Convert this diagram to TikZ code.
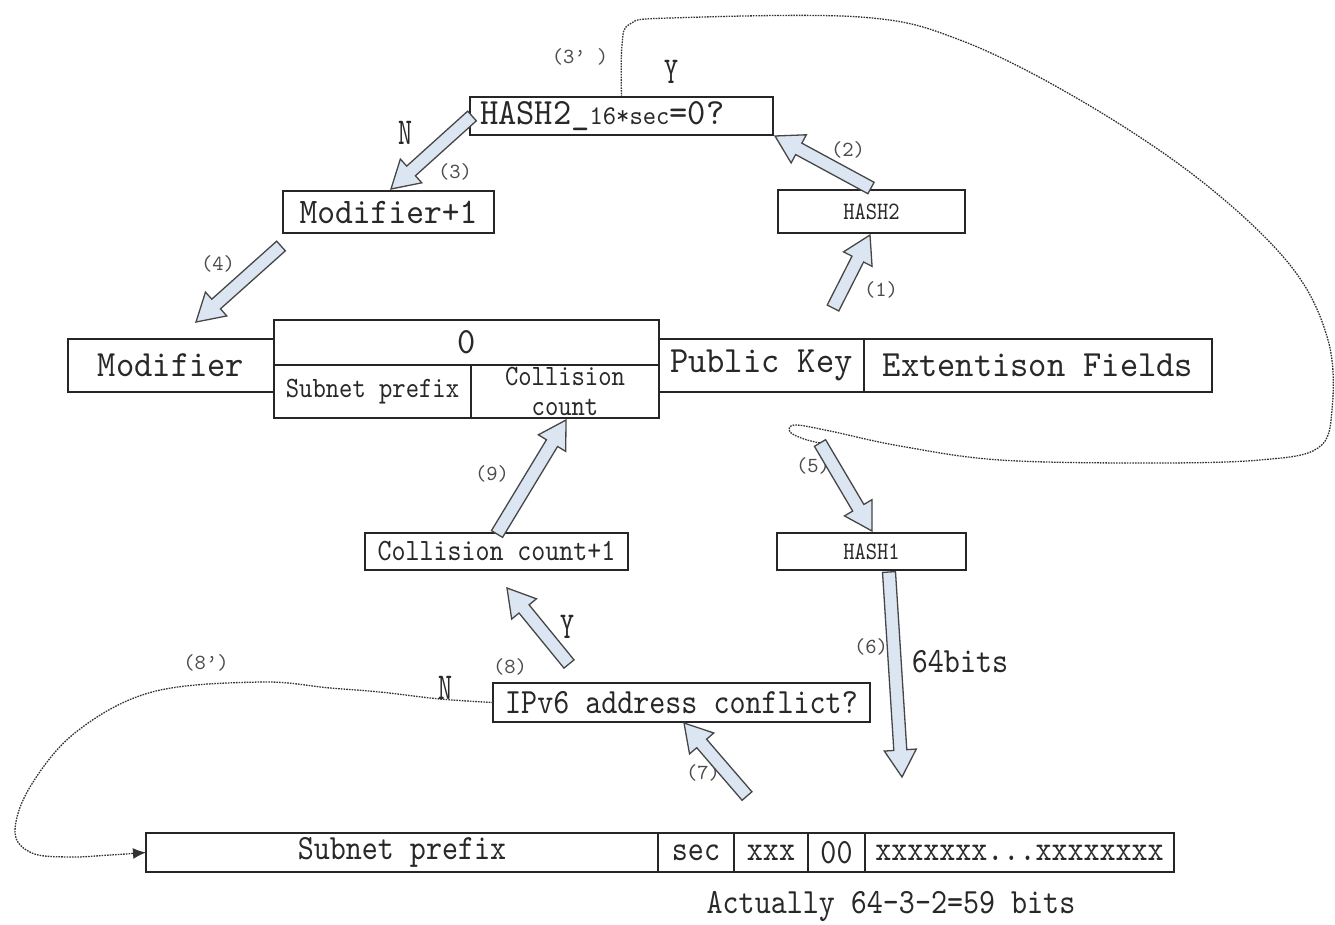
\documentclass[tikz,border=0pt]{standalone}
\usepackage{fontspec}
\newfontfamily\mfont[FakeStretch=0.94]{lmmono10-regular.otf}
\newfontfamily\nfont[FakeStretch=0.86]{lmmono10-regular.otf}
\newfontfamily\yfont[FakeStretch=0.7]{lmmono10-regular.otf}
\newfontfamily\lfont{lmmono10-regular.otf}
\usetikzlibrary{calc,arrows.meta}
\newcommand\fsz[1]{\fontsize{#1}{#1}\selectfont}
\definecolor{arrfill}{RGB}{220,230,242}
\definecolor{arrline}{RGB}{70,70,70}
\definecolor{txt}{RGB}{40,40,40}
\def\sw{6.5pt}\def\hw{16pt}\def\hl{27pt}
\newcommand{\blockarrow}[2]{%
  \path ($(#2)!\hl!(#1)$) coordinate (bh);
  \filldraw[blk] ($(#1)!\sw!90:(#2)$) -- ($(bh)!\sw!90:(#2)$) -- ($(bh)!\hw!90:(#2)$) -- (#2)
    -- ($(bh)!\hw!-90:(#2)$) -- ($(bh)!\sw!-90:(#2)$) -- ($(#1)!\sw!-90:(#2)$) -- cycle;}
\begin{document}
\begin{tikzpicture}[x=1pt,y=-1pt,
  box/.style={draw=black!85, line width=1.4pt, inner sep=0pt, outer sep=0pt, text=txt},
  blk/.style={fill=arrfill, draw=arrline, line width=1.3pt, line join=miter},
  lbl/.style={inner sep=0pt, text=black!70, font=\lfont\fsz{21.5pt}},
  yn/.style={inner sep=0pt, text=txt, font=\yfont\fsz{38pt}},
  dots/.style={draw=black!80, line width=1.3pt, dash pattern=on 1.6pt off 1.1pt},
  big/.style={font=\mfont\fsz{37pt}},
  tall/.style={font=\nfont\fsz{35.5pt}},
]
\useasboundingbox (0,0) rectangle (1335,924);

% top boxes
\node[box, big, anchor=west, minimum width=303pt, minimum height=38pt, inner xsep=10pt, align=left, text width=283pt] (hq) at (470,116) {HASH2\_{\fsz{27pt}16*sec}=0?};
\node[box, font=\mfont\fsz{36pt}, minimum width=211pt, minimum height=42pt] (mp1) at (388.5,212) {Modifier+1};
\node[box, font=\nfont\fsz{25pt}, minimum width=187pt, minimum height=43pt] (h2) at (871.5,211.5) {HASH2};

% middle row
\node[box, big, minimum width=206pt, minimum height=53pt] (mod) at (171,365.5) {Modifier};
\node[box, big, minimum width=385pt, minimum height=45pt] (zero) at (466.5,342.5) {0};
\node[box, font=\nfont\fsz{29.5pt}, minimum width=197pt, minimum height=53pt] (snp) at (372.5,391.5) {Subnet prefix};
\node[box, font=\nfont\fsz{29.5pt}, minimum width=188pt, minimum height=53pt, align=center] (cc) at (565,391.5) {Collision\\count};
\node[box, big, minimum width=205pt, minimum height=53pt] (pk) at (761.5,365.5) {Public Key};
\node[box, big, minimum width=348pt, minimum height=53pt] (ext) at (1038,365.5) {Extentison Fields};

% lower boxes
\node[box, font=\nfont\fsz{31pt}, minimum width=263pt, minimum height=37pt] (ccp) at (496.5,551.5) {Collision count+1};
\node[box, font=\nfont\fsz{25pt}, minimum width=189pt, minimum height=37pt] (h1) at (871.5,551.5) {HASH1};
\node[box, tall, minimum width=377pt, minimum height=39pt] (ipv6) at (681.5,702.5) {IPv6 address conflict?};

% bottom row
\node[box, tall, minimum width=512pt, minimum height=39pt] (b1) at (402,852.5) {Subnet prefix};
\node[box, tall, minimum width=76pt, minimum height=39pt] (b2) at (696,852.5) {sec};
\node[box, tall, minimum width=74pt, minimum height=39pt] (b3) at (771,852.5) {xxx};
\node[box, tall, minimum width=57pt, minimum height=39pt] (b4) at (836.5,852.5) {00};
\node[box, tall, minimum width=309pt, minimum height=39pt] (b5) at (1019.5,852.5) {xxxxxxx...xxxxxxxx};
\node[inner sep=0pt, text=txt, tall] (act) at (891,906) {Actually 64-3-2=59 bits};

% labels
\node[lbl] (l3p) at (580,57) {(3’ )};
\node[yn] (ytop) at (671,72) {Y};
\node[yn] (ntop) at (405,133) {N};
\node[lbl] (l3) at (455,172) {(3)};
\node[lbl] (l2) at (848,150) {(2)};
\node[lbl] (l4) at (218,264) {(4)};
\node[lbl] (l1) at (881,290) {(1)};
\node[lbl] (l9) at (492,474) {(9)};
\node[lbl] (l5) at (813,466) {(5)};
\node[lbl] (l6) at (871,647) {(6)};
\node[inner sep=0pt, text=txt, tall] (b64) at (960,662) {64bits};
\node[lbl] (l8) at (510,667) {(8)};
\node[yn] (ybot) at (567,627) {Y};
\node[lbl] (l8p) at (206,663) {(8’)};
\node[yn] (nbot) at (445,688) {N};
\node[lbl] (l7) at (703,773) {(7)};

% arrow end points
\coordinate (a1s) at (833,308);  \coordinate (a1e) at (870,235);
\coordinate (a2s) at (871,188);  \coordinate (a2e) at (775,136);
\coordinate (a3s) at (472,116);  \coordinate (a3e) at (391,189);
\coordinate (a4s) at (281,246);  \coordinate (a4e) at (196,322);
\coordinate (a5s) at (820,443);  \coordinate (a5e) at (872,531);
\coordinate (a6s) at (889,572);  \coordinate (a6e) at (902,777);
\coordinate (a7s) at (747,796);  \coordinate (a7e) at (684,723);
\coordinate (a8s) at (569,664);  \coordinate (a8e) at (507,588);
\coordinate (a9s) at (497,534);  \coordinate (a9e) at (566,420);

% dotted curves
\draw[dots] plot[smooth, tension=0.6] coordinates {(621.5,97) (622,45) (630,24) (670,18) (860,17) (960,40) (1080,100) (1200,180) (1290,265) (1328,340) (1332,410) (1318,448) (1260,460) (1150,463) (1000,460) (900,446) (830,431) (795,425) (790,432) (804,439) (a5s)};
\draw[dots, -{Latex[length=13pt,width=11pt]}] plot[smooth, tension=0.6] coordinates {(ipv6.west) (440,699) (380,692) (330,688) (260,682) (152,692) (76,732) (30,787) (15,832) (32,853) (70,857) (110,855) (b1.west)};

% block arrows
\blockarrow{a1s}{a1e}
\blockarrow{a2s}{a2e}
\blockarrow{a3s}{a3e}
\blockarrow{a4s}{a4e}
\blockarrow{a5s}{a5e}
\blockarrow{a6s}{a6e}
\blockarrow{a7s}{a7e}
\blockarrow{a8s}{a8e}
\blockarrow{a9s}{a9e}
\end{tikzpicture}
\end{document}
